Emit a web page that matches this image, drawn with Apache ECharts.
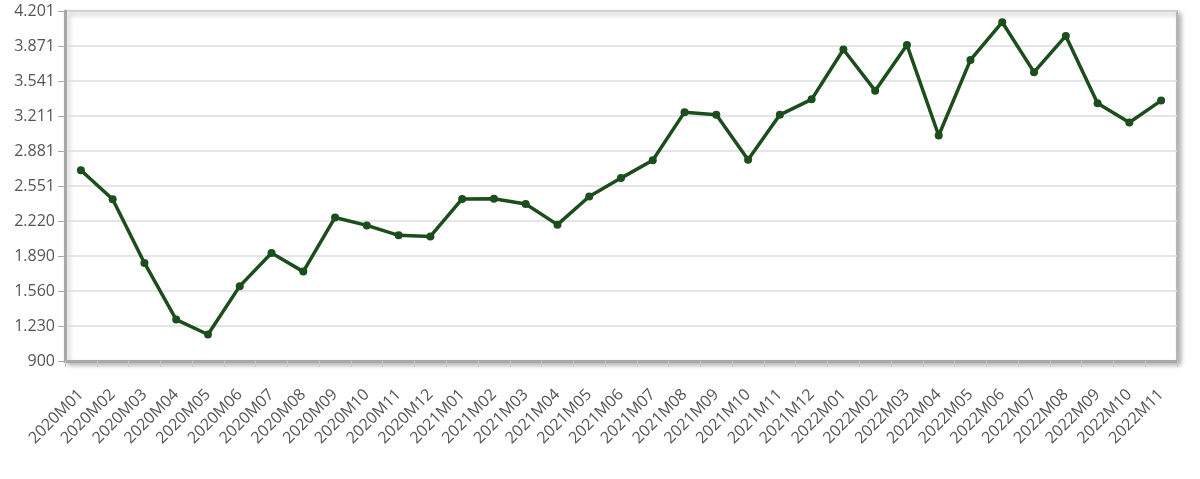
<!DOCTYPE html>
<html>
<head>
<meta charset="utf-8">
<script src="https://cdn.jsdelivr.net/npm/echarts@6/dist/echarts.min.js"></script>
<style>
html,body{margin:0;padding:0;background:#fff;}
#chart{width:1200px;height:479px;}
</style>
</head>
<body>
<div id="chart"></div>
<script>
const categories = [
  "2020M01","2020M02","2020M03","2020M04","2020M05","2020M06","2020M07","2020M08","2020M09","2020M10","2020M11","2020M12",
  "2021M01","2021M02","2021M03","2021M04","2021M05","2021M06","2021M07","2021M08","2021M09","2021M10","2021M11","2021M12",
  "2022M01","2022M02","2022M03","2022M04","2022M05","2022M06","2022M07","2022M08","2022M09","2022M10","2022M11"
];
const values = [
  2699, 2426, 1825, 1291, 1150, 1606, 1919, 1743, 2254, 2179, 2085, 2075,
  2428, 2431, 2381, 2186, 2452, 2625, 2793, 3247, 3222, 2798, 3222, 3368,
  3838, 3450, 3881, 3027, 3740, 4095, 3624, 3966, 3332, 3149, 3356
];
const yMin = 900;
const yMax = 4201;
const yInterval = 330.1;

function fmt(v) {
  const n = Math.round(v);
  return String(n).replace(/\B(?=(\d{3})+(?!\d))/g, '.');
}

const chart = echarts.init(document.getElementById('chart'));
chart.setOption({
  animation: false,
  textStyle: { fontFamily: 'Open Sans' },
  grid: {
    left: 65, right: 23, top: 11, bottom: 118,
    show: true, backgroundColor: '#fff',
    borderColor: '#b5b5b5', borderWidth: 2,
    shadowColor: 'rgba(0,0,0,0.3)', shadowBlur: 5, shadowOffsetX: 3, shadowOffsetY: 3
  },
  xAxis: {
    type: 'category',
    data: categories,
    boundaryGap: true,
    axisLine: { lineStyle: { color: '#a8a8a8', width: 3 } },
    axisTick: { show: true, length: 6, lineStyle: { color: '#c8c8c8', width: 1 } },
    axisLabel: { rotate: 45, interval: 0, color: '#555', fontSize: 16, margin: 31 }
  },
  yAxis: {
    type: 'value',
    min: yMin, max: yMax, interval: yInterval,
    axisLine: { show: true, lineStyle: { color: '#a8a8a8', width: 3 } },
    axisTick: { show: true, length: 7, lineStyle: { color: '#a8a8a8', width: 1 } },
    axisLabel: { color: '#555', fontSize: 16, margin: 10, formatter: fmt },
    splitLine: { show: true, lineStyle: { color: '#dcdcdc', width: 1.5 } }
  },
  series: [{
    type: 'line',
    data: values,
    symbol: 'circle',
    symbolSize: 8,
    lineStyle: { color: '#1c4d1c', width: 3.5 },
    itemStyle: { color: '#1c4d1c' }
  }]
});
</script>
</body>
</html>
